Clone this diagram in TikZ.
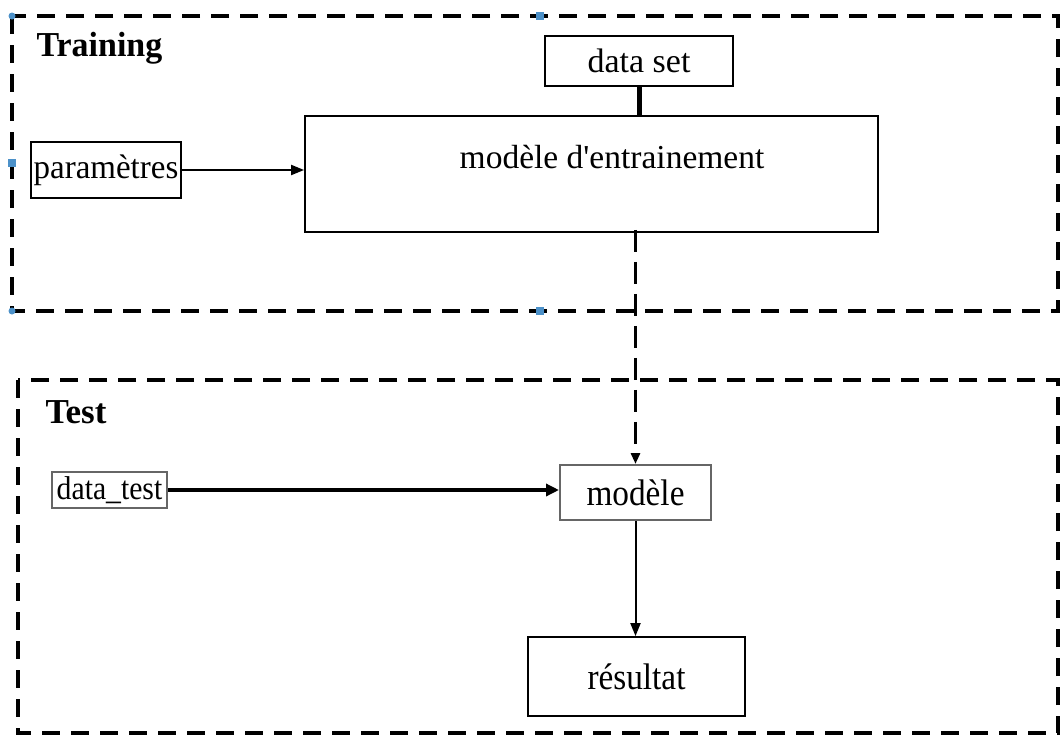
\documentclass[tikz,border=0pt]{standalone}
\usepackage{fontspec}
\usepackage{graphicx}
\setmainfont{Liberation Serif}
\usetikzlibrary{arrows.meta}
\newcommand{\narrow}[2]{\scalebox{#1}[1]{#2}}
\begin{document}
\begin{tikzpicture}[x=1pt,y=-1pt,
  phase/.style={draw=black, line width=4pt, dash pattern=on 18pt off 11pt},
  box/.style={draw=black, line width=1.8pt, inner sep=0pt, fill=white},
  greybox/.style={draw=black!60, line width=2pt, inner sep=0pt, fill=white},
  phasetitle/.style={font=\fontsize{35}{38}\selectfont\bfseries, anchor=west},
  flow/.style={line width=2pt, -{Triangle[length=13pt,width=10pt]}},
  handle/.style={fill=blue!45!cyan!70!black!70, draw=none}
]
\useasboundingbox (0,0) rectangle (1060,736);
\fill[white] (0,0) rectangle (1060,736);

% phase frames
\draw[phase] (12,16) rectangle (1058,311);
\draw[phase] (18,380) rectangle (1058,733);

% selection handles on the training frame
\fill[handle] (12,16) circle (3.5pt);
\fill[handle] (12,311) circle (3.5pt);
\fill[handle] (536,12) rectangle (544,20);
\fill[handle] (536,307) rectangle (544,315);
\fill[handle] (8,159) rectangle (16,167);

\node[phasetitle] (ttrain) at (33,48) {\narrow{0.97}{Training}};
\node[phasetitle] (ttest) at (42,412) {Test};

% training part
\node[box, minimum width=188pt, minimum height=50pt, font=\fontsize{34}{38}\selectfont] (ds) at (639,61) {data set};
\node[box, minimum width=573pt, minimum height=116pt] (train) at (591.5,174) {};
\node[font=\fontsize{33.5}{38}\selectfont] (traintxt) at (612,157) {modèle d\textquotesingle entrainement};
\node[box, minimum width=150pt, minimum height=56pt, font=\fontsize{34}{38}\selectfont] (par) at (106,170) {\narrow{0.97}{paramètres}};

\draw[line width=5pt] (ds.south) -- (ds.south |- train.north);
\draw[flow] (par.east) -- (par.east -| train.west);

% test part
\node[greybox, minimum width=115pt, minimum height=36pt, font=\fontsize{33}{36}\selectfont] (dt) at (109.5,490) {\narrow{0.9}{data\_test}};
\node[greybox, minimum width=151pt, minimum height=55pt, font=\fontsize{37}{40}\selectfont] (mod) at (635.5,492.5) {\narrow{0.9}{modèle}};
\node[box, minimum width=217pt, minimum height=79pt, font=\fontsize{37}{40}\selectfont] (res) at (636.5,676.5) {\narrow{0.9}{résultat}};

\draw[line width=3pt, dash pattern=on 22pt off 10pt, -{Triangle[length=11pt,width=9pt]}]
  ([yshift=3pt]mod.north |- train.south) -- (mod.north);
\draw[line width=4pt, -{Triangle[length=13pt,width=12pt]}] (dt.east) -- (dt.east -| mod.west);
\draw[flow] (mod.south) -- (mod.south |- res.north);
\end{tikzpicture}
\end{document}
